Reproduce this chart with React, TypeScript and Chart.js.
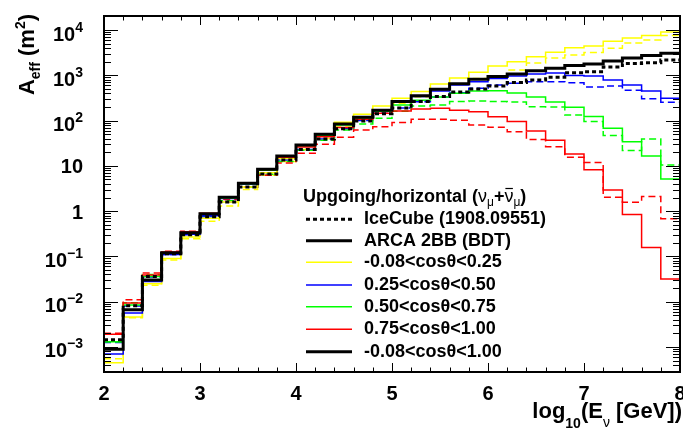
import React, { useEffect, useRef } from "react";
import { Chart, registerables } from "chart.js";

Chart.register(...registerables);

// ---------- data ----------
const binEdges = [
  2.0, 2.2, 2.4, 2.6, 2.8, 3.0, 3.2, 3.4, 3.6, 3.8, 4.0, 4.2, 4.4, 4.6, 4.8, 5.0,
  5.2, 5.4, 5.6, 5.8, 6.0, 6.2, 6.4, 6.6, 6.8, 7.0, 7.2, 7.4, 7.6, 7.8, 8.0,
];

// ARCA 2BB (BDT), solid lines
const arcaAll = [8.9e-4, 6.6e-3, 0.03, 0.12, 0.335, 0.87, 2.03, 4.15, 8.4, 16.6, 29, 50, 84, 118, 170, 263, 355, 490, 650, 820, 935, 1070, 1260, 1430, 1640, 1780, 2070, 2410, 2740, 3060];
const arcaYellow = [4.5e-4, 4.6e-3, 0.025, 0.09, 0.27, 0.7, 1.6, 3.4, 7.0, 14.5, 27, 48, 92, 138, 210, 310, 440, 640, 870, 1170, 1600, 2000, 2570, 3220, 4070, 4450, 5650, 6700, 7550, 9000];
const arcaBlue = [7.0e-4, 5.6e-3, 0.028, 0.11, 0.31, 0.8, 1.9, 3.9, 8.0, 16, 28, 49, 83, 118, 170, 255, 340, 450, 610, 720, 850, 960, 1070, 1120, 990, 965, 790, 610, 450, 310];
const arcaGreen = [1.3e-3, 8.5e-3, 0.036, 0.12, 0.33, 0.85, 1.95, 4.0, 8.0, 16, 28, 47, 80, 112, 160, 220, 280, 330, 400, 450, 458, 405, 333, 258, 197, 123, 68, 34, 16.5, 5.1];
const arcaRed = [1.9e-3, 9.3e-3, 0.039, 0.125, 0.35, 0.9, 2.05, 4.2, 8.3, 15.5, 26, 44, 70, 107, 145, 162, 180, 187, 170, 157, 122, 95, 59, 37, 18.3, 8.2, 2.94, 0.845, 0.158, 0.0317];

// IceCube (1908.09551), dashed lines
const icAll = [1.45e-3, 8.1e-3, 0.036, 0.115, 0.3, 0.75, 1.6, 3.4, 6.6, 13.5, 23, 39, 66, 98, 142, 190, 265, 340, 430, 500, 580, 690, 790, 905, 1140, 1200, 1520, 1820, 1900, 2180];
const icYellow = [5.5e-4, 4.4e-3, 0.023, 0.083, 0.245, 0.6, 1.3, 3.0, 6.2, 12.5, 23, 40, 72, 110, 165, 240, 330, 470, 640, 850, 965, 1310, 1870, 2410, 2800, 3170, 3940, 5160, 6010, 7560];
const icBlue = [1.26e-3, 8.0e-3, 0.035, 0.11, 0.3, 0.75, 1.6, 3.4, 6.6, 13.5, 23, 39, 66, 100, 145, 190, 260, 330, 410, 515, 610, 665, 720, 720, 685, 550, 580, 465, 305, 255];
const icGreen = [1.3e-3, 9.5e-3, 0.04, 0.12, 0.32, 0.8, 1.7, 3.4, 6.5, 12.5, 22, 37, 62, 84, 112, 160, 210, 220, 263, 270, 263, 258, 203, 200, 132, 95, 47, 21.7, 39, 10.5];
const icRed = [2.0e-3, 1.1e-2, 0.043, 0.13, 0.36, 0.88, 1.8, 3.4, 6.2, 11.5, 19, 30, 43, 62, 73, 91, 107, 107, 102, 80, 71, 57, 38, 26.5, 15.5, 11.8, 2.03, 1.58, 2.1, 0.68];

const xTickValues = [2, 3, 4, 5, 6, 7, 8];
const xTickLabels = ["2", "3", "4", "5", "6", "7", "8"];
const yTickValues = [1e-3, 1e-2, 1e-1, 1, 10, 100, 1e3, 1e4];
const yTickBase = ["10", "10", "10", "1", "10", "10", "10", "10"];
const yTickExp = ["\u22123", "\u22122", "\u22121", "", "", "2", "3", "4"];

const legendLabels = [
  "IceCube (1908.09551)",
  "ARCA 2BB (BDT)",
  "-0.08<cos\u03b8<0.25",
  "0.25<cos\u03b8<0.50",
  "0.50<cos\u03b8<0.75",
  "0.75<cos\u03b8<1.00",
  "-0.08<cos\u03b8<1.00",
];
const legendColors = ["#000000", "#000000", "#ffff00", "#0000ff", "#00ff00", "#ff0000", "#000000"];
const legendWidths = [3, 3, 1.5, 1.5, 1.5, 1.5, 3];
const legendDashes = [[4, 3], [], [], [], [], [], []];

const YELLOW = "#ffff00";
const BLUE = "#0000ff";
const GREEN = "#00ff00";
const RED = "#ff0000";

const FONT = '"Liberation Sans", Arial, Helvetica, sans-serif';

function pts(vals: number[]) {
  return binEdges.map((x, i) => ({ x, y: vals[Math.min(i, vals.length - 1)] }));
}

type Part = [string, string, number];

function drawParts(ctx: CanvasRenderingContext2D, parts: Part[], x: number, y: number, alignRight: boolean) {
  let total = 0;
  const widths: number[] = [];
  for (const p of parts) {
    ctx.font = p[1];
    const w = ctx.measureText(p[0]).width;
    widths.push(w);
    total += w;
  }
  let cx = alignRight ? x - total : x;
  ctx.textAlign = "left";
  ctx.textBaseline = "alphabetic";
  parts.forEach((p, i) => {
    ctx.font = p[1];
    ctx.fillText(p[0], cx, y + p[2]);
    cx += widths[i];
  });
  return total;
}

const decorPlugin = {
  id: "rootDecor",
  afterDraw(chart: any) {
    const ctx: CanvasRenderingContext2D = chart.ctx;
    const a = chart.chartArea;
    const xs = chart.scales.x;
    const ys = chart.scales.y;
    ctx.save();
    ctx.strokeStyle = "#000";
    ctx.fillStyle = "#000";
    ctx.lineWidth = 1;
    ctx.setLineDash([]);

    // x ticks (bottom & top, inward)
    for (let i = 0; i <= 30; i++) {
      const v = 2 + i * 0.2;
      const px = Math.round(xs.getPixelForValue(v)) + 0.5;
      const len = i % 5 === 0 ? 9 : 4.5;
      ctx.beginPath();
      ctx.moveTo(px, a.bottom);
      ctx.lineTo(px, a.bottom - len);
      ctx.moveTo(px, a.top);
      ctx.lineTo(px, a.top + len);
      ctx.stroke();
    }
    // y ticks (left & right, inward)
    const yMin = ys.min;
    const yMax = ys.max;
    for (let d = -4; d <= 4; d++) {
      for (let m = 1; m <= 9; m++) {
        const v = m * Math.pow(10, d);
        if (v < yMin || v > yMax) continue;
        const py = Math.round(ys.getPixelForValue(v)) + 0.5;
        const len = m === 1 ? 14 : 7;
        ctx.beginPath();
        ctx.moveTo(a.left, py);
        ctx.lineTo(a.left + len, py);
        ctx.moveTo(a.right, py);
        ctx.lineTo(a.right - len, py);
        ctx.stroke();
      }
    }
    // frame
    ctx.lineWidth = 2;
    ctx.strokeRect(a.left, a.top, a.right - a.left, a.bottom - a.top);

    // x tick labels
    ctx.font = `bold 20px ${FONT}`;
    ctx.textAlign = "center";
    ctx.textBaseline = "alphabetic";
    xTickValues.forEach((v, i) => {
      ctx.fillText(xTickLabels[i], xs.getPixelForValue(v), 400);
    });

    // y tick labels
    const xr = 83;
    yTickValues.forEach((v, i) => {
      const py = ys.getPixelForValue(v);
      if (yTickExp[i] === "") {
        ctx.font = `bold 20px ${FONT}`;
        ctx.textAlign = "right";
        ctx.textBaseline = "alphabetic";
        ctx.fillText(yTickBase[i], xr, py + 7.5);
      } else {
        drawParts(
          ctx,
          [
            [yTickBase[i], `bold 20px ${FONT}`, 10.5],
            [yTickExp[i], `bold 14px ${FONT}`, 1.5],
          ],
          xr,
          py,
          true
        );
      }
    });

    // x axis title
    drawParts(
      ctx,
      [
        ["log", `bold 22px ${FONT}`, 0],
        ["10", `bold 14px ${FONT}`, 10],
        ["(E", `bold 22px ${FONT}`, 0],
        ["\u03bd", `14px ${FONT}`, 9],
        [" [GeV])", `bold 22px ${FONT}`, 0],
      ],
      682,
      418,
      true
    );

    // y axis title (rotated)
    ctx.save();
    ctx.translate(34, 14);
    ctx.rotate(-Math.PI / 2);
    drawParts(
      ctx,
      [
        ["A", `bold 22px ${FONT}`, 0],
        ["eff", `bold 14px ${FONT}`, 6],
        [" (m", `bold 22px ${FONT}`, 0],
        ["2", `bold 14px ${FONT}`, -9],
        [")", `bold 22px ${FONT}`, 0],
      ],
      0,
      0,
      true
    );
    ctx.restore();

    // legend header
    const hx = 303;
    const hy = 201.5;
    const main = `bold 18px ${FONT}`;
    const greek = `18px ${FONT}`;
    const sub = `12px ${FONT}`;
    ctx.textAlign = "left";
    ctx.textBaseline = "alphabetic";
    let cx = hx;
    const put = (t: string, f: string, dy: number) => {
      ctx.font = f;
      ctx.fillText(t, cx, hy + dy);
      const w = ctx.measureText(t).width;
      const x0 = cx;
      cx += w;
      return [x0, w];
    };
    put("Upgoing/horizontal (", main, 0);
    put("\u03bd", greek, 0);
    put("\u03bc", sub, 4);
    put("+", main, 0);
    const nb = put("\u03bd", greek, 0);
    ctx.lineWidth = 1.2;
    ctx.beginPath();
    ctx.moveTo(nb[0] + 1, hy - 13);
    ctx.lineTo(nb[0] + nb[1] - 0.5, hy - 13);
    ctx.stroke();
    put("\u03bc", sub, 4);
    put(")", main, 0);

    // legend entries
    const rowY = [219.3, 240.7, 262.3, 285, 306.7, 329.3, 351.7];
    legendLabels.forEach((lab, i) => {
      const y = rowY[i];
      ctx.strokeStyle = legendColors[i];
      ctx.lineWidth = legendWidths[i];
      ctx.setLineDash(legendDashes[i]);
      ctx.beginPath();
      ctx.moveTo(306, y);
      ctx.lineTo(352, y);
      ctx.stroke();
      ctx.setLineDash([]);
      ctx.font = main;
      ctx.fillStyle = "#000";
      ctx.textAlign = "left";
      ctx.textBaseline = "middle";
      ctx.fillText(lab, 364, y);
    });

    ctx.restore();
  },
};

function ds(label: string, vals: number[], color: string, width: number, dash: number[]) {
  return {
    label,
    data: pts(vals),
    borderColor: color,
    backgroundColor: color,
    borderWidth: width,
    borderDash: dash,
    stepped: true,
    pointRadius: 0,
    fill: false,
    tension: 0,
  };
}

export default function App() {
  const ref = useRef<HTMLCanvasElement | null>(null);
  useEffect(() => {
    if (!ref.current) return;
    const chart = new Chart(ref.current, {
      type: "line",
      data: {
        datasets: [
          ds("ARCA all", arcaAll, "#000000", 3, []),
          ds("IceCube all", icAll, "#000000", 3, [4, 3]),
          ds("ARCA red", arcaRed, RED, 1.5, []),
          ds("ARCA green", arcaGreen, GREEN, 1.5, []),
          ds("ARCA blue", arcaBlue, BLUE, 1.5, []),
          ds("ARCA yellow", arcaYellow, YELLOW, 1.5, []),
          ds("IC red", icRed, RED, 1.5, [7, 4]),
          ds("IC green", icGreen, GREEN, 1.5, [7, 4]),
          ds("IC blue", icBlue, BLUE, 1.5, [7, 4]),
          ds("IC yellow", icYellow, YELLOW, 1.5, [7, 4]),
        ] as any,
      },
      options: {
        responsive: false,
        devicePixelRatio: 1,
        animation: false,
        layout: { padding: { left: 104, right: 3, top: 16, bottom: 57 } },
        plugins: {
          legend: { display: false },
          tooltip: { enabled: false },
          title: { display: false },
        },
        scales: {
          x: { type: "linear", min: 2, max: 8, display: false },
          y: { type: "logarithmic", min: 2.8e-4, max: 2.04e4, display: false },
        },
        elements: { point: { radius: 0 } },
      } as any,
      plugins: [decorPlugin],
    });
    return () => chart.destroy();
  }, []);
  return (
    <div style={{ position: "absolute", left: 0, top: 0, width: 683, height: 429, background: "#fff" }}>
      <canvas ref={ref} width={683} height={429} style={{ display: "block", width: 683, height: 429 }} />
    </div>
  );
}
